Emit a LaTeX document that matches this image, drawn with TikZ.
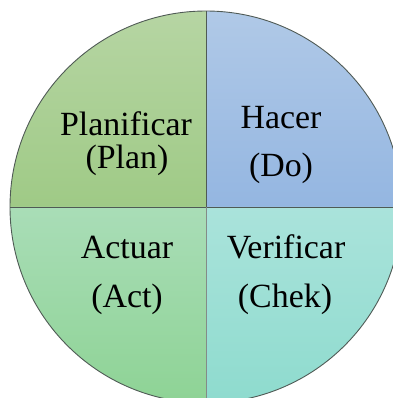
\documentclass[tikz,border=0pt]{standalone}
\usepackage{fontspec}
\setmainfont{LiberationSerif-Regular.ttf}
\usepackage{xcolor}

\definecolor{planTop}{HTML}{B6D5A3}
\definecolor{planBot}{HTML}{9FCA86}
\definecolor{doTop}{HTML}{B0C9E7}
\definecolor{doBot}{HTML}{94B6E1}
\definecolor{actTop}{HTML}{A9DDB7}
\definecolor{actBot}{HTML}{8ED395}
\definecolor{chkTop}{HTML}{AAE3DB}
\definecolor{chkBot}{HTML}{8EDBCE}
\definecolor{rim}{HTML}{4F5A55}

\begin{document}
\begin{tikzpicture}[x=1bp,y=1bp,
        word/.style={anchor=base,inner sep=0pt,font=\rmfamily\fontsize{34}{40}\selectfont},
        rimline/.style={draw=rim,line width=0.9bp}]
        \useasboundingbox (0,0) rectangle (393,398);
        \clip (0,0) rectangle (393,398);

        % four quarters of the wheel
        \shade[top color=planTop,bottom color=planBot] (206,191) -- (10,191) arc[start angle=180,end angle=90,radius=196] -- cycle;
        \shade[top color=doTop,bottom color=doBot] (206,191) -- (206,387) arc[start angle=90,end angle=0,radius=196] -- cycle;
        \shade[top color=actTop,bottom color=actBot] (206,191) -- (10,191) arc[start angle=180,end angle=270,radius=196] -- cycle;
        \shade[top color=chkTop,bottom color=chkBot] (206,191) -- (206,-5) arc[start angle=270,end angle=360,radius=196] -- cycle;

        \draw[rimline] (206,191) circle[radius=196];
        \draw[rimline] (10,191) -- (402,191);
        \draw[rimline] (206,387) -- (206,191);
        \draw[draw=rim!70,line width=0.8bp] (206,191) -- (206,-5);

        \node[word] (plan) at (126,263) {Planificar};
        \node[word] (planEn) at (127,230) {(Plan)};
        \node[word] (hacer) at (281,270) {Hacer};
        \node[word] (hacerEn) at (281,222) {(Do)};
        \node[word] (actuar) at (127,140) {Actuar};
        \node[word] (actuarEn) at (127,91) {(Act)};
        \node[word] (verif) at (286,140) {Verificar};
        \node[word] (verifEn) at (285,91) {(Chek)};
    \end{tikzpicture}
\end{document}
